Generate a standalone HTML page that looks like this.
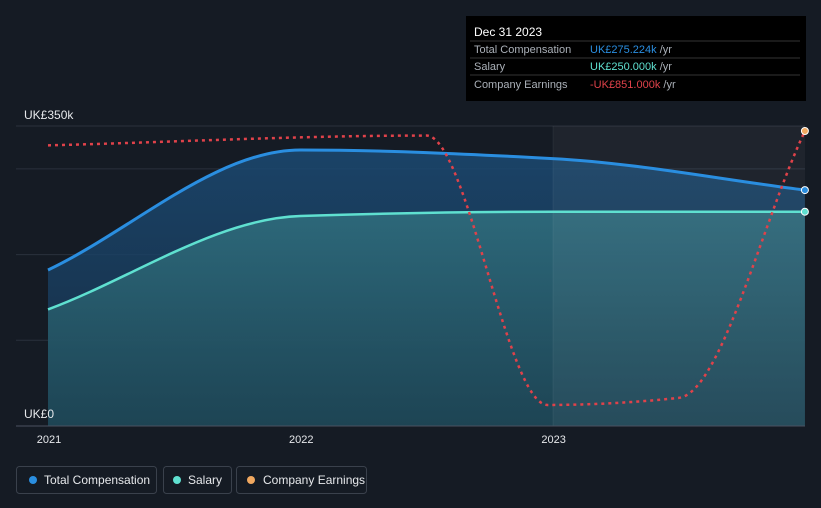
<!DOCTYPE html>
<html><head><meta charset="utf-8"><style>
body{margin:0;background:#151b24;font-family:"Liberation Sans",sans-serif;}
svg{display:block}
</style></head><body>
<svg width="821" height="508" viewBox="0 0 821 508">
<defs>
<linearGradient id="gTot" x1="0" y1="0" x2="0" y2="1"><stop offset="0" stop-color="#1b4a73" stop-opacity="0.85"/><stop offset="1" stop-color="#173552" stop-opacity="0.7"/></linearGradient>
<linearGradient id="gSal" x1="0" y1="0" x2="0" y2="1"><stop offset="0" stop-color="#2f6d7d" stop-opacity="0.9"/><stop offset="1" stop-color="#1f4a58" stop-opacity="0.8"/></linearGradient>
</defs>
<g id="grid"></g>
<path id="areaTot" fill="url(#gTot)"/>
<path id="areaSal" fill="url(#gSal)"/>
<rect x="553" y="126" width="252" height="300" fill="#ffffff" fill-opacity="0.045"/>
<line x1="553" y1="126" x2="553" y2="426" stroke="#ffffff" stroke-opacity="0.05"/>
<path id="lineTot" fill="none" stroke="#2a8ee0" stroke-width="3"/>
<path id="lineSal" fill="none" stroke="#5fe0d0" stroke-width="2.5"/>
<path id="lineEarn" fill="none" stroke="#e0424a" stroke-width="2.5" stroke-dasharray="3,4"/>
<line x1="16" y1="426" x2="805" y2="426" stroke="#4a5260"/>
<text x="24" y="119" fill="#e6e8eb" font-size="12">UK£350k</text>
<text x="24" y="418" fill="#e6e8eb" font-size="12">UK£0</text>
<g id="xticks"></g>
<g id="dots"></g>
<g>
<rect x="466" y="16" width="340" height="85" fill="#000"/>
<text x="474" y="36" fill="#fff" font-size="12">Dec 31 2023</text>
<line x1="470" y1="41" x2="800" y2="41" stroke="#333"/>
<text x="474" y="53" fill="#aab0b8" font-size="11">Total Compensation</text>
<text x="590" y="53" fill="#2a8ee0" font-size="11">UK£275.224k <tspan fill="#aab0b8">/yr</tspan></text>
<line x1="470" y1="58" x2="800" y2="58" stroke="#333"/>
<text x="474" y="70" fill="#aab0b8" font-size="11">Salary</text>
<text x="590" y="70" fill="#5fe0d0" font-size="11">UK£250.000k <tspan fill="#aab0b8">/yr</tspan></text>
<line x1="470" y1="75" x2="800" y2="75" stroke="#333"/>
<text x="474" y="88" fill="#aab0b8" font-size="11">Company Earnings</text>
<text x="590" y="88" fill="#e0424a" font-size="11">-UK£851.000k <tspan fill="#aab0b8">/yr</tspan></text>
</g>
<g>
<g><rect x="16.5" y="466.5" width="140" height="27" rx="3" fill="none" stroke="#3a414c"/><circle cx="33" cy="480" r="4" fill="#2a8ee0"/><text x="44" y="484" fill="#e6e8eb" font-size="12">Total Compensation</text></g>
<g><rect x="163.5" y="466.5" width="68" height="27" rx="3" fill="none" stroke="#3a414c"/><circle cx="177" cy="480" r="4" fill="#5fe0d0"/><text x="188" y="484" fill="#e6e8eb" font-size="12">Salary</text></g>
<g><rect x="236.5" y="466.5" width="130" height="27" rx="3" fill="none" stroke="#3a414c"/><circle cx="251" cy="480" r="4" fill="#f0a860"/><text x="263" y="484" fill="#e6e8eb" font-size="12">Company Earnings</text></g>
</g>
</svg>
<script>
const years=[2021,2022,2023,2024];
const totalComp=[182,322,312,275.224];
const salary=[136,245,250,250];
const earnYears=[2021,2022.5,2022.98,2023.5,2024];
const earnings=[287,330,-851,-820,350];
const gridTicks=[0,100,200,300,350];
const xTickYears=[2021,2022,2023];
const xTickLabels=["2021","2022","2023"];
const NS="http://www.w3.org/2000/svg";
const x=t=>48+(t-2021)*252.3;
const y=v=>426-v/350*300;
const ye=v=>131+(350-v)*0.2281;
function mono(xs,ys){const n=xs.length,d=[],m=[];for(let i=0;i<n-1;i++)d.push((ys[i+1]-ys[i])/(xs[i+1]-xs[i]));m[0]=d[0];m[n-1]=d[n-2];for(let i=1;i<n-1;i++)m[i]=d[i-1]*d[i]<=0?0:2/(1/d[i-1]+1/d[i]);let p="M"+xs[0]+","+ys[0];for(let i=0;i<n-1;i++){const h=(xs[i+1]-xs[i])/3;p+=" C"+(xs[i]+h)+","+(ys[i]+m[i]*h)+" "+(xs[i+1]-h)+","+(ys[i+1]-m[i+1]*h)+" "+xs[i+1]+","+ys[i+1];}return p;}
const grid=document.getElementById('grid');
gridTicks.forEach(v=>{const l=document.createElementNS(NS,'line');l.setAttribute('x1',16);l.setAttribute('x2',805);l.setAttribute('y1',y(v));l.setAttribute('y2',y(v));l.setAttribute('stroke','#2a313c');


grid.appendChild(l);});
const tx=years.map(x),tt=totalComp.map(y),sy=salary.map(y);
const pT=mono(tx,tt),pS=mono(tx,sy);
document.getElementById('lineTot').setAttribute('d',pT);
document.getElementById('lineSal').setAttribute('d',pS);
document.getElementById('areaTot').setAttribute('d',pT+" L"+tx[3]+",426 L"+tx[0]+",426Z");
document.getElementById('areaSal').setAttribute('d',pS+" L"+tx[3]+",426 L"+tx[0]+",426Z");
document.getElementById('lineEarn').setAttribute('d',mono(earnYears.map(x),earnings.map(ye)));
const xt=document.getElementById('xticks');
xTickYears.forEach((t,i)=>{const tx2=document.createElementNS(NS,'text');tx2.setAttribute('x',x(t)+1);tx2.setAttribute('y',443);tx2.setAttribute('fill','#e6e8eb');tx2.setAttribute('font-size','11');tx2.setAttribute('text-anchor','middle');tx2.textContent=xTickLabels[i];


xt.appendChild(tx2);});
const dots=document.getElementById('dots');
[[y(totalComp[3]),'#2a8ee0'],[y(salary[3]),'#5fe0d0'],[ye(earnings[4]),'#f0a860']].forEach(([cy,c])=>{const ci=document.createElementNS(NS,'circle');ci.setAttribute('cx',x(2024));ci.setAttribute('cy',cy);ci.setAttribute('r',3.5);ci.setAttribute('fill',c);ci.setAttribute('stroke','#fff');ci.setAttribute('stroke-width','1');


dots.appendChild(ci);});
</script>
</body></html>
